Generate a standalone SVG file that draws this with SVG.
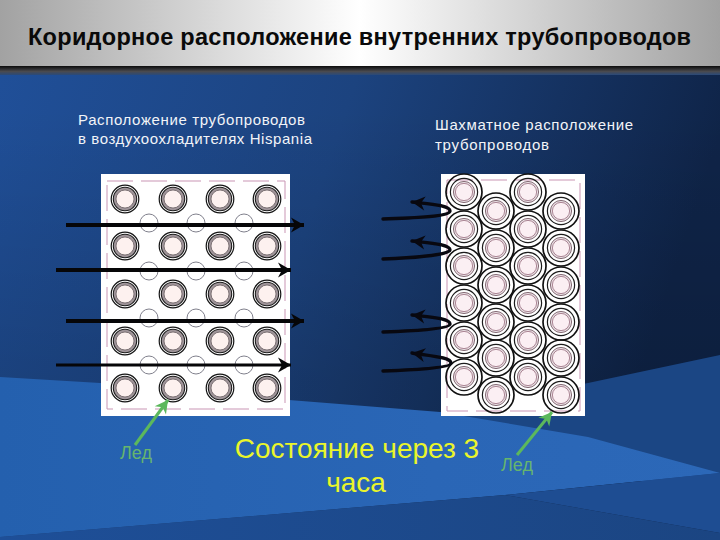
<svg xmlns="http://www.w3.org/2000/svg" width="720" height="540" viewBox="0 0 720 540">
<style>
text{font-family:"Liberation Sans",Arial,sans-serif}
.title{font-size:23.5px;font-weight:bold;fill:#0a0a0a}
.sub{font-size:15px;fill:#f2f4f8}
.big{font-size:28px;fill:#eaf52a;text-anchor:middle}
.ice{font-size:18px;fill:#66b56e}
.panel{fill:#fff}
.frame{fill:none;stroke:#c995b4;stroke-width:1;stroke-dasharray:26 8}
.small{fill:none;stroke:#80808c;stroke-width:1}
.flow{fill:none;stroke:#060608;stroke-width:4}
.flow2{fill:none;stroke:#060608;stroke-width:3}
.curl{fill:none;stroke:#080810;stroke-width:3.4;stroke-linecap:round}
.green{fill:none;stroke:#5cb85c;stroke-width:3}
</style>
<defs>
<linearGradient id="bg" x1="0" y1="0" x2="1" y2="0.25">
<stop offset="0" stop-color="#20509a"/><stop offset="0.5" stop-color="#1c437f"/><stop offset="1" stop-color="#0f2448"/>
</linearGradient>
<linearGradient id="shade" x1="0" y1="0" x2="0" y2="1">
<stop offset="0.2" stop-color="#000" stop-opacity="0"/><stop offset="0.7" stop-color="#000" stop-opacity="0.14"/>
</linearGradient>
<linearGradient id="band" x1="0" y1="0" x2="1" y2="0">
<stop offset="0" stop-color="#1e4f98"/><stop offset="1" stop-color="#1b4582"/>
</linearGradient>
<linearGradient id="wave" x1="0" y1="0" x2="1" y2="0">
<stop offset="0" stop-color="#2460ae"/><stop offset="0.6" stop-color="#2a66b6"/><stop offset="1" stop-color="#2c68b8"/>
</linearGradient>
<linearGradient id="head" x1="0" y1="0" x2="1" y2="0">
<stop offset="0" stop-color="#a2a2a2"/><stop offset="0.5" stop-color="#ffffff"/><stop offset="1" stop-color="#a2a2a2"/>
</linearGradient>
<linearGradient id="rule" x1="0" y1="0" x2="0" y2="1">
<stop offset="0" stop-color="#0c0c0c"/><stop offset="0.6" stop-color="#4a4a4e"/><stop offset="1" stop-color="#2a4a7a"/>
</linearGradient>
<marker id="ah" markerUnits="userSpaceOnUse" markerWidth="18" markerHeight="18" refX="15" refY="9" orient="auto">
<path d="M2 1.5 L15 9 L2 16.5 L6 9 Z" fill="#060608"/>
</marker>
<marker id="ahc" markerUnits="userSpaceOnUse" markerWidth="18" markerHeight="18" refX="15" refY="9" orient="auto">
<path d="M2 2 L15 9 L2 16 L6 9 Z" fill="#080810"/>
</marker>
<marker id="ag" markerUnits="userSpaceOnUse" markerWidth="18" markerHeight="18" refX="15" refY="9" orient="auto">
<path d="M2 2 L15 9 L2 16 L6 9 Z" fill="#5cb85c"/>
</marker>
<g id="p1">
<circle r="13.8" fill="#fff" stroke="#151515" stroke-width="1.2"/>
<circle r="11.7" fill="#a0959a" stroke="#1c1c1c" stroke-width="1.1"/>
<circle r="9" fill="#fdf1ef" stroke="#6a5f62" stroke-width="0.8"/>
</g>
<g id="p2">
<circle r="18" fill="none" stroke="#111" stroke-width="1.7"/>
<circle r="13.6" fill="none" stroke="#1c1c1c" stroke-width="1.2"/>
<circle r="10.6" fill="#e6dce0" stroke="#7a5f6a" stroke-width="0.9"/>
<circle r="8.6" fill="#fbeff3" stroke="#9a6f80" stroke-width="0.8"/>
</g>
</defs>

<g id="background">
<rect width="720" height="540" fill="url(#bg)"/>
<rect width="720" height="540" fill="url(#shade)"/>
<polygon points="720,355 588,383 400,420 720,500" fill="#1b4684"/>
<polygon points="0,377 100,383 289,400 440,412 588,437 720,473 505,495 0,537" fill="url(#wave)"/>
<polygon points="0,537 505,495 720,533 720,540 0,540" fill="url(#band)"/>
<polygon points="505,495 720,473 720,533" fill="#1e4d92"/>
</g>

<g id="header">
<rect width="720" height="66" fill="url(#head)"/>
<rect y="66" width="720" height="9" fill="url(#rule)"/>
<text class="title" x="28" y="45" textLength="663" lengthAdjust="spacing">Коридорное расположение внутренних трубопроводов</text>
</g>

<g id="label-left">
<text class="sub" x="78" y="125" textLength="227" lengthAdjust="spacing">Расположение трубопроводов</text>
<text class="sub" x="78" y="144" textLength="234" lengthAdjust="spacing">в воздухоохладителях Hispania</text>
</g>
<g id="label-right">
<text class="sub" x="435" y="130" textLength="198" lengthAdjust="spacing">Шахматное расположение</text>
<text class="sub" x="435" y="150" textLength="114" lengthAdjust="spacing">трубопроводов</text>
</g>

<g id="panel-corridor">
<rect class="panel" x="101" y="174" width="189" height="242"/>
<rect class="frame" x="107" y="181" width="178" height="228"/>
<use href="#p1" x="125" y="199"/><use href="#p1" x="173" y="199"/><use href="#p1" x="220" y="199"/><use href="#p1" x="267" y="199"/>
<use href="#p1" x="125" y="246"/><use href="#p1" x="173" y="246"/><use href="#p1" x="220" y="246"/><use href="#p1" x="267" y="246"/>
<use href="#p1" x="125" y="294"/><use href="#p1" x="173" y="294"/><use href="#p1" x="220" y="294"/><use href="#p1" x="267" y="294"/>
<use href="#p1" x="125" y="341"/><use href="#p1" x="173" y="341"/><use href="#p1" x="220" y="341"/><use href="#p1" x="267" y="341"/>
<use href="#p1" x="125" y="388"/><use href="#p1" x="173" y="388"/><use href="#p1" x="220" y="388"/><use href="#p1" x="267" y="388"/>
<circle class="small" cx="149" cy="223" r="9"/><circle class="small" cx="196" cy="223" r="9"/><circle class="small" cx="244" cy="223" r="9"/>
<circle class="small" cx="149" cy="271" r="9"/><circle class="small" cx="196" cy="271" r="9"/><circle class="small" cx="244" cy="271" r="9"/>
<circle class="small" cx="149" cy="318" r="9"/><circle class="small" cx="196" cy="318" r="9"/><circle class="small" cx="244" cy="318" r="9"/>
<circle class="small" cx="149" cy="365" r="9"/><circle class="small" cx="196" cy="365" r="9"/><circle class="small" cx="244" cy="365" r="9"/>
</g>

<g id="panel-staggered">
<rect class="panel" x="441" y="174" width="144" height="242"/>
<rect class="frame" x="447" y="180" width="133" height="231"/>
<use href="#p2" x="464" y="192"/><use href="#p2" x="464" y="229"/><use href="#p2" x="464" y="266"/><use href="#p2" x="464" y="303"/><use href="#p2" x="464" y="340"/><use href="#p2" x="464" y="377"/>
<use href="#p2" x="496" y="211"/><use href="#p2" x="496" y="248"/><use href="#p2" x="496" y="285"/><use href="#p2" x="496" y="322"/><use href="#p2" x="496" y="358"/><use href="#p2" x="496" y="395"/>
<use href="#p2" x="528" y="192"/><use href="#p2" x="528" y="229"/><use href="#p2" x="528" y="266"/><use href="#p2" x="528" y="303"/><use href="#p2" x="528" y="340"/><use href="#p2" x="528" y="377"/>
<use href="#p2" x="561" y="211"/><use href="#p2" x="561" y="248"/><use href="#p2" x="561" y="285"/><use href="#p2" x="561" y="322"/><use href="#p2" x="561" y="358"/><use href="#p2" x="561" y="395"/>
</g>

<g id="connectors">
<path class="flow" d="M66 225 H304" marker-end="url(#ah)"/>
<path class="flow" d="M56 270 H291" marker-end="url(#ah)"/>
<path class="flow" d="M66 321 H304" marker-end="url(#ah)"/>
<path class="flow2" d="M56 365 H291" marker-end="url(#ah)"/>
<path class="curl" d="M383 219 C410 218 450 217 450 211 C450 205 430 204 412 202" marker-end="url(#ahc)"/>
<path class="curl" d="M383 259 C410 258 450 255 450 250 C450 244 430 243 412 241" marker-end="url(#ahc)"/>
<path class="curl" d="M383 332 C410 331 450 329 450 324 C450 318 430 317 412 315" marker-end="url(#ahc)"/>
<path class="curl" d="M383 371 C410 370 451 368 451 363 C451 357 430 356 412 353" marker-end="url(#ahc)"/>
<path class="green" d="M135 445 L168 400" marker-end="url(#ag)"/>
<path class="green" d="M517 455 L552 412" marker-end="url(#ag)"/>
</g>

<g id="caption">
<text class="big" x="357" y="458">Состояние через 3</text>
<text class="big" x="356" y="492">часа</text>
</g>
<g id="ice-left"><text class="ice" x="120" y="459">Лед</text></g>
<g id="ice-right"><text class="ice" x="501" y="471">Лед</text></g>
</svg>
